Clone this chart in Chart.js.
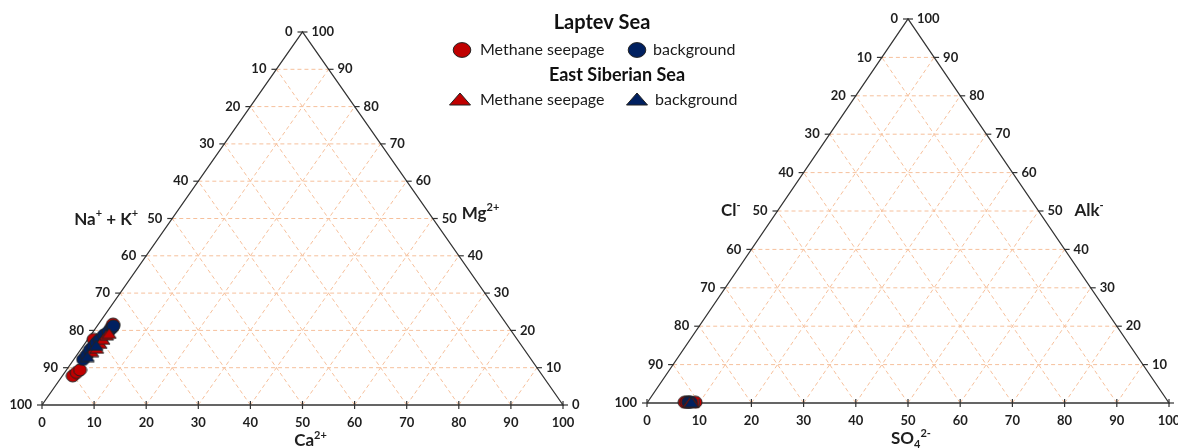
<!DOCTYPE html>
<html>
<head>
<meta charset="utf-8">
<script src="https://cdn.jsdelivr.net/npm/chart.js@4.4.1/dist/chart.umd.min.js"></script>
<style>
  html, body { margin: 0; padding: 0; background: #ffffff; }
  #wrap { position: relative; width: 1178px; height: 448px; }
</style>
</head>
<body>
<div id="wrap"><canvas id="ternary" width="1178" height="448"></canvas></div>
<script>
// ---- data: compositions in % (each triplet sums to 100) ----
const tickValues = [0, 10, 20, 30, 40, 50, 60, 70, 80, 90, 100];

// cations: [Na+ + K+, Ca2+, Mg2+]
const laptevSeepCations = [
  [90.2, 2.0, 7.8], [89.0, 2.3, 8.7], [88.0, 2.6, 9.4],
  [81.3, 1.1, 17.6], [76.1, 2.9, 21.0], [75.5, 2.8, 21.7]
];
const laptevBackCations = [
  [86.0, 1.8, 12.2], [84.7, 1.9, 13.4], [83.4, 1.8, 14.8], [82.4, 2.0, 15.6],
  [81.2, 2.1, 16.7], [80.1, 2.3, 17.6], [78.7, 2.5, 18.8], [77.4, 2.9, 19.7],
  [76.3, 3.1, 20.6], [75.7, 3.1, 21.2]
];
const essSeepCations = [
  [83.3, 2.4, 14.3], [81.9, 2.9, 15.2], [80.6, 2.9, 16.5],
  [79.5, 2.9, 17.6], [78.2, 3.0, 18.8], [77.5, 3.3, 19.2]
];
const essBackCations = [
  [84.8, 2.2, 13.0], [81.6, 2.4, 16.0]
];

// anions: [Cl-, SO4 2-, Alk-]
const laptevSeepAnions = [[92.7, 7.1, 0.2], [92.3, 7.5, 0.2], [91.8, 8.0, 0.2], [90.6, 9.2, 0.2]];
const laptevBackAnions = [[92.0, 7.8, 0.2], [91.5, 8.3, 0.2]];
const essSeepAnions = [[91.7, 8.1, 0.2], [91.2, 8.6, 0.2]];
const essBackAnions = [[91.4, 8.4, 0.2]];

const SEEP_RED = '#c00000';
const BACK_BLUE = '#002060';
const GRID = '#f6c09c';
const EDGE = '#333333';
const FONT = 'Lato, "Open Sans", "Liberation Sans", sans-serif';

// ---- geometry helpers ----
// ternary [left corner, right corner, top corner] -> cartesian (0..100)
function toXY(left, right, top) {
  return { x: right + top / 2, y: top };
}
function samples(rows) {
  return rows.map(r => toXY(r[0], r[1], r[2]));
}

// marker images (slightly flattened shapes)
function ellipseMarker(w, h, fill) {
  const c = document.createElement('canvas');
  c.width = Math.ceil(w) + 2; c.height = Math.ceil(h) + 2;
  const g = c.getContext('2d');
  g.beginPath();
  g.ellipse(c.width / 2, c.height / 2, w / 2, h / 2, 0, 0, Math.PI * 2);
  g.fillStyle = fill; g.fill();
  g.lineWidth = 1; g.strokeStyle = '#222'; g.stroke();
  return c;
}
function triangleMarker(w, h, fill) {
  const c = document.createElement('canvas');
  c.width = Math.ceil(w) + 2; c.height = Math.ceil(h) + 2;
  const g = c.getContext('2d');
  g.beginPath();
  g.moveTo(1, h + 1); g.lineTo(w / 2 + 1, 1); g.lineTo(w + 1, h + 1); g.closePath();
  g.fillStyle = fill; g.fill();
  g.lineWidth = 1; g.strokeStyle = '#222'; g.stroke();
  return c;
}
const redDot = ellipseMarker(13, 12, SEEP_RED);
const blueDot = ellipseMarker(13, 12, BACK_BLUE);
const redTri = triangleMarker(14, 10, SEEP_RED);
const blueTri = triangleMarker(14, 10, BACK_BLUE);

// ---- frames: where 0..100 of each diagram sits on the canvas ----
const W = 1178, H = 448;
function xRange(p0, p100) { const per = (p100 - p0) / 100; return { min: -p0 / per, max: (W - p0) / per }; }
function yRange(p0, p100) { const per = (p0 - p100) / 100; return { min: -(H - p0) / per, max: p0 / per }; }
const leftX = xRange(42, 563), leftY = yRange(405, 32);
const rightX = xRange(647, 1169), rightY = yRange(403, 19);

// ---- datasets ----
function gridLines(xa, ya) {
  const out = [];
  tickValues.filter(v => v > 0 && v < 100).forEach(k => {
    const segs = [
      [{ x: k / 2, y: k }, { x: 100 - k / 2, y: k }],            // constant top component
      [{ x: k, y: 0 }, { x: 50 + k / 2, y: 100 - k }],            // constant right component
      [{ x: 100 - k, y: 0 }, { x: (100 - k) / 2, y: 100 - k }]    // constant left component
    ];
    segs.forEach(s => out.push({
      data: s, xAxisID: xa, yAxisID: ya, showLine: true, pointRadius: 0,
      borderColor: GRID, borderWidth: 1, borderDash: [4, 3], order: 20
    }));
  });
  return out;
}
function outline(xa, ya) {
  return {
    data: [{ x: 0, y: 0 }, { x: 100, y: 0 }, { x: 50, y: 100 }, { x: 0, y: 0 }],
    xAxisID: xa, yAxisID: ya, showLine: true, pointRadius: 0,
    borderColor: EDGE, borderWidth: 1.3, order: 10
  };
}
function points(rows, img, xa, ya, order, label) {
  return {
    label, data: samples(rows), xAxisID: xa, yAxisID: ya, showLine: false,
    pointStyle: img, pointRadius: 6, order
  };
}

const datasets = [
  ...gridLines('xL', 'yL'), ...gridLines('xR', 'yR'),
  outline('xL', 'yL'), outline('xR', 'yR'),
  points(laptevSeepCations, redDot, 'xL', 'yL', 4, 'Laptev Sea methane seepage'),
  points(laptevBackCations, blueDot, 'xL', 'yL', 3, 'Laptev Sea background'),
  points(essSeepCations, redTri, 'xL', 'yL', 2, 'East Siberian Sea methane seepage'),
  points(essBackCations, blueTri, 'xL', 'yL', 1, 'East Siberian Sea background'),
  points(laptevSeepAnions, redDot, 'xR', 'yR', 4, 'Laptev Sea methane seepage'),
  points(laptevBackAnions, blueDot, 'xR', 'yR', 3, 'Laptev Sea background'),
  points(essSeepAnions, redTri, 'xR', 'yR', 2, 'East Siberian Sea methane seepage'),
  points(essBackAnions, blueTri, 'xR', 'yR', 1, 'East Siberian Sea background')
];

// ---- text helpers ----
// parts: [text, kind] where kind is '' (normal), 'sup' or 'sub'
function richWidth(ctx, parts, size) {
  let w = 0;
  parts.forEach(([t, k]) => {
    ctx.font = `bold ${k ? Math.round(size * 0.62) : size}px ${FONT}`;
    w += ctx.measureText(t).width;
  });
  return w;
}
function drawRich(ctx, parts, x, y, size, align) {
  const total = richWidth(ctx, parts, size);
  let cx = align === 'center' ? x - total / 2 : align === 'right' ? x - total : x;
  ctx.textBaseline = 'alphabetic';
  ctx.textAlign = 'left';
  parts.forEach(([t, k]) => {
    const s = k ? Math.round(size * 0.62) : size;
    ctx.font = `bold ${s}px ${FONT}`;
    const dy = k === 'sup' ? -size * 0.42 : k === 'sub' ? size * 0.22 : 0;
    ctx.fillText(t, cx, y + dy);
    cx += ctx.measureText(t).width;
  });
}

// ticks, tick labels and corner titles of one diagram
function drawAxes(chart, xa, ya, titles) {
  const ctx = chart.ctx, sx = chart.scales[xa], sy = chart.scales[ya];
  const P = (p) => ({ x: sx.getPixelForValue(p.x), y: sy.getPixelForValue(p.y) });
  ctx.save();
  ctx.strokeStyle = EDGE; ctx.lineWidth = 1.2;
  ctx.fillStyle = '#1f1f1f';
  ctx.font = `bold 13px ${FONT}`;
  tickValues.forEach(v => {
    // left edge (left component = v)
    const l = P(toXY(v, 0, 100 - v));
    ctx.beginPath(); ctx.moveTo(l.x - 5, l.y); ctx.lineTo(l.x + 0.5, l.y); ctx.stroke();
    ctx.textAlign = 'right'; ctx.textBaseline = 'middle';
    ctx.fillText(String(v), l.x - 10, l.y);
    // right edge (top component = v)
    const r = P(toXY(0, 100 - v, v));
    ctx.beginPath(); ctx.moveTo(r.x - 0.5, r.y); ctx.lineTo(r.x + 5, r.y); ctx.stroke();
    ctx.textAlign = 'left';
    ctx.fillText(String(v), r.x + 9, r.y);
    // bottom edge (right component = v)
    const b = P(toXY(100 - v, v, 0));
    ctx.beginPath(); ctx.moveTo(b.x, b.y - 4); ctx.lineTo(b.x, b.y + 4); ctx.stroke();
    ctx.textAlign = 'center';
    ctx.fillText(String(v), b.x, b.y + 18);
  });
  titles.forEach(t => {
    const a = P(t.at);
    drawRich(ctx, t.parts, a.x + t.dx, a.y + t.dy, 17, t.align);
  });
  ctx.restore();
}

function drawLegend(ctx) {
  ctx.save();
  ctx.fillStyle = '#111';
  ctx.textBaseline = 'middle';
  ctx.textAlign = 'center';
  ctx.font = `bold 20px ${FONT}`;
  ctx.fillText('Laptev Sea', 602, 23);
  ctx.font = `bold 18px ${FONT}`;
  ctx.fillText('East Siberian Sea', 617, 75);
  const mark = (kind, color, x, y) => {
    ctx.beginPath();
    if (kind === 'dot') ctx.ellipse(x, y, 8.8, 7.4, 0, 0, Math.PI * 2);
    else { ctx.moveTo(x - 10.5, y + 6); ctx.lineTo(x, y - 6); ctx.lineTo(x + 10.5, y + 6); ctx.closePath(); }
    ctx.fillStyle = color; ctx.fill();
    ctx.lineWidth = 1; ctx.strokeStyle = '#222'; ctx.stroke();
  };
  mark('dot', SEEP_RED, 462, 50);
  mark('dot', BACK_BLUE, 637, 50);
  mark('tri', SEEP_RED, 460, 99);
  mark('tri', BACK_BLUE, 637, 99);
  ctx.fillStyle = '#1a1a1a';
  ctx.textAlign = 'left';
  ctx.font = `16px ${FONT}`;
  ctx.fillText('Methane seepage', 480, 50);
  ctx.fillText('background', 653, 50);
  ctx.fillText('Methane seepage', 480, 100);
  ctx.fillText('background', 655, 100);
  ctx.restore();
}

const ternaryDecor = {
  id: 'ternaryDecor',
  afterDatasetsDraw(chart) {
    drawAxes(chart, 'xL', 'yL', [
      { at: toXY(50, 0, 50), dx: -34, dy: 6, align: 'right',
        parts: [['Na', ''], ['+', 'sup'], [' + K', ''], ['+', 'sup']] },
      { at: toXY(0, 50, 50), dx: 29, dy: 0, align: 'left',
        parts: [['Mg', ''], ['2+', 'sup']] },
      { at: toXY(50, 50, 0), dx: 8, dy: 41, align: 'center',
        parts: [['Ca', ''], ['2+', 'sup']] }
    ]);
    drawAxes(chart, 'xR', 'yR', [
      { at: toXY(50, 0, 50), dx: -37, dy: 5, align: 'right',
        parts: [['Cl', ''], ['-', 'sup']] },
      { at: toXY(0, 50, 50), dx: 36, dy: 5, align: 'left',
        parts: [['Alk', ''], ['-', 'sup']] },
      { at: toXY(50, 50, 0), dx: 3, dy: 41, align: 'center',
        parts: [['SO', ''], ['4', 'sub'], ['2-', 'sup']] }
    ]);
    drawLegend(chart.ctx);
  }
};

const hiddenAxis = (r, pos) => ({ type: 'linear', display: false, min: r.min, max: r.max, position: pos });

new Chart(document.getElementById('ternary'), {
  type: 'scatter',
  data: { datasets },
  options: {
    responsive: false,
    devicePixelRatio: 1,
    animation: false,
    events: [],
    layout: { padding: 0, autoPadding: false },
    plugins: { legend: { display: false }, tooltip: { enabled: false }, title: { display: false } },
    scales: {
      xL: hiddenAxis(leftX, 'bottom'),
      yL: hiddenAxis(leftY, 'left'),
      xR: hiddenAxis(rightX, 'bottom'),
      yR: hiddenAxis(rightY, 'left')
    }
  },
  plugins: [ternaryDecor]
});
</script>
</body>
</html>
